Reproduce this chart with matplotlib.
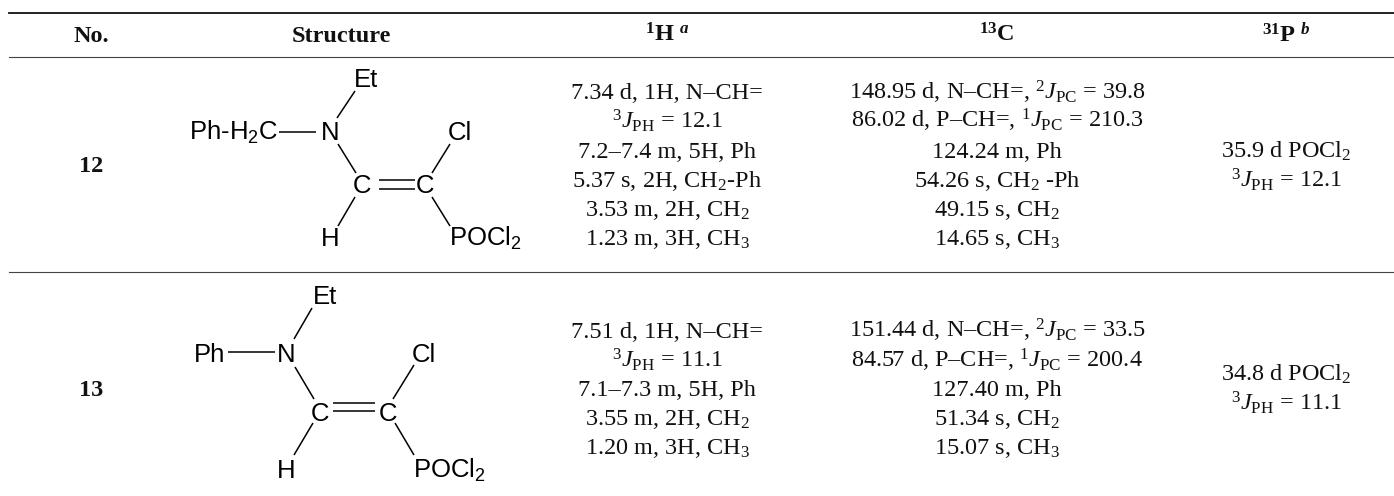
import matplotlib
matplotlib.use('Agg')
import matplotlib.pyplot as plt

plt.rcParams['font.family'] = ['Liberation Serif', 'DejaVu Serif']
plt.rcParams['mathtext.fontset'] = 'custom'
plt.rcParams['mathtext.rm'] = 'Liberation Serif'
plt.rcParams['mathtext.it'] = 'Liberation Serif:italic'
plt.rcParams['mathtext.bf'] = 'Liberation Serif:bold'
plt.rcParams['mathtext.bfit'] = 'Liberation Serif:italic:bold'
plt.rcParams['mathtext.default'] = 'regular'

headers = ['No.', 'Structure', r'$\mathbf{^{1}H}$ $^{\mathbfit{a}}$', r'$\mathbf{^{13}C}$', r'$\mathbf{^{31}P}$ $^{\mathbfit{b}}$']
numbers = ['12', '13']

h_12 = ['7.34 d, 1H, N–CH=', r'$^{3}\mathit{J}_{PH}$ = 12.1', '7.2–7.4 m, 5H, Ph',
        r'5.37 s, 2H, CH$_{2}$-Ph', r'3.53 m, 2H, CH$_{2}$', r'1.23 m, 3H, CH$_{3}$']
c_12 = [r'148.95 d, N–CH=, $^{2}\mathit{J}_{PC}$ = 39.8', r'86.02 d, P–CH=, $^{1}\mathit{J}_{PC}$ = 210.3',
        '124.24 m, Ph', r'54.26 s, CH$_{2}$ -Ph', r'49.15 s, CH$_{2}$', r'14.65 s, CH$_{3}$']
p_12 = [r'35.9 d POCl$_{2}$', r'$^{3}\mathit{J}_{PH}$ = 12.1']

h_13 = ['7.51 d, 1H, N–CH=', r'$^{3}\mathit{J}_{PH}$ = 11.1', '7.1–7.3 m, 5H, Ph',
        r'3.55 m, 2H, CH$_{2}$', r'1.20 m, 3H, CH$_{3}$']
c_13 = [r'151.44 d, N–CH=, $^{2}\mathit{J}_{PC}$ = 33.5', r'84.57 d, P–CH=, $^{1}\mathit{J}_{PC}$ = 200.4',
        '127.40 m, Ph', r'51.34 s, CH$_{2}$', r'15.07 s, CH$_{3}$']
p_13 = [r'34.8 d POCl$_{2}$', r'$^{3}\mathit{J}_{PH}$ = 11.1']

# atom labels: text, x, baseline y, alignment
atoms_12 = [('Et', 366, 87, 'center'), (r'Ph-H$_{2}$C', 234, 140, 'center'), ('N', 330, 140, 'center'),
            ('Cl', 460, 140, 'center'), ('C', 362, 193, 'center'), ('C', 425, 193, 'center'),
            ('H', 330, 246, 'center'), (r'POCl$_{2}$', 449, 246, 'left')]
bonds_12 = [((337, 118), (355, 91)), ((279, 132), (316, 132)), ((338, 144), (356, 173)),
            ((379, 180), (415, 180)), ((379, 189), (415, 189)), ((432, 173), (450, 144)),
            ((355, 197), (338, 226)), ((432, 197), (450, 226))]

atoms_13 = [('Et', 325, 304, 'center'), ('Ph', 210, 362, 'center'), ('N', 286, 362, 'center'),
            ('Cl', 424, 362, 'center'), ('C', 320, 421, 'center'), ('C', 388, 421, 'center'),
            ('H', 286, 478, 'center'), (r'POCl$_{2}$', 413, 478, 'left')]
bonds_13 = [((294, 339), (312, 308)), ((228, 352), (275, 352)), ((295, 367), (314, 399)),
            ((333, 403), (375, 403)), ((333, 411), (375, 411)), ((393, 399), (414, 365)),
            ((313, 423), (294, 455)), ((395, 423), (414, 455))]

col_x = [91, 341, 667, 997, 1286]
rows_12 = [99, 128, 158, 187, 216, 245]
rows_13 = [338, 367, 396, 425, 454]
size = 17.5


def draw_lines(ax, x, ys, lines):
    for y, s in zip(ys, lines):
        ax.text(x, y, s, ha='center', va='baseline', fontsize=size, color='#111111')


def draw_structure(ax, atoms, bonds):
    for s, x, y, ha in atoms:
        ax.text(x, y, s, ha=ha, va='baseline', fontsize=18.5, color='black', family=['Liberation Sans'])
    for a, b in bonds:
        ax.plot([a[0], b[0]], [a[1], b[1]], color='black', lw=1.1, solid_capstyle='butt')


fig = plt.figure(figsize=(13.94, 4.96), dpi=100)
ax = fig.add_axes([0, 0, 1, 1])
ax.set_xlim(0, 1394)
ax.set_ylim(496, 0)
ax.axis('off')

ax.plot([9, 1394], [12.5, 12.5], color='#111111', lw=1.3)
ax.plot([9, 1394], [56.5, 56.5], color='#444444', lw=0.8)
ax.plot([9, 1394], [271.5, 271.5], color='#444444', lw=0.8)

for x, s in zip(col_x, headers):
    ax.text(x, 42, s, ha='center', va='baseline', fontsize=size, fontweight='bold', color='#111111')

ax.text(col_x[0], 172, numbers[0], ha='center', va='baseline', fontsize=size, fontweight='bold', color='#111111')
ax.text(col_x[0], 396, numbers[1], ha='center', va='baseline', fontsize=size, fontweight='bold', color='#111111')

draw_lines(ax, col_x[2], rows_12, h_12)
draw_lines(ax, col_x[3], rows_12, c_12)
draw_lines(ax, col_x[4], rows_12[2:4], p_12)
draw_lines(ax, col_x[2], rows_13, h_13)
draw_lines(ax, col_x[3], rows_13, c_13)
draw_lines(ax, col_x[4], [381, 410], p_13)

draw_structure(ax, atoms_12, bonds_12)
draw_structure(ax, atoms_13, bonds_13)

fig.savefig('out.png', dpi=100)
